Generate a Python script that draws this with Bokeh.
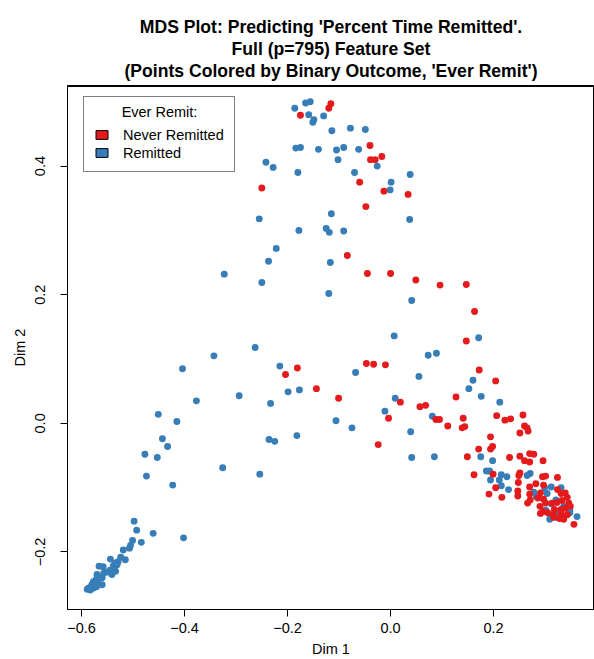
import numpy as np
from bokeh.plotting import figure
from bokeh.models import (Range1d, FixedTicker, Title, Legend, LegendItem, Span,
                          CustomJSTickFormatter, ColumnDataSource, Label)
from bokeh.embed import file_html
from bokeh.resources import INLINE

# ---------------- data ----------------
blue_x = [-0.186, -0.165, -0.156, -0.159, -0.149, -0.151, -0.130, -0.114, -0.078, -0.049,
          -0.184, -0.175, -0.140, -0.105, -0.091, -0.062, -0.102, -0.242, -0.228, -0.180,
          -0.070, -0.026, 0.001, -0.001, 0.038, -0.115, -0.255, -0.178, -0.125, -0.119,
          -0.091, 0.037, -0.222, -0.237, -0.117, -0.250, -0.120, 0.041, 0.007, -0.263,
          0.073, 0.089, -0.323, -0.343, -0.404, -0.294, -0.377, -0.451, -0.415, -0.443,
          -0.433, -0.477, -0.453, -0.326, -0.474, -0.254, -0.423, -0.498, -0.493, -0.461,
          -0.402, -0.501, -0.484, -0.505, -0.507, -0.519, -0.515, -0.524, -0.529, -0.534,
          -0.544, -0.538, -0.531, -0.558, -0.566, -0.544, -0.550, -0.557, -0.534, -0.541,
          -0.570, -0.563, -0.571, -0.560, -0.577, -0.569, -0.560, -0.580, -0.573, -0.586,
          -0.589, -0.583, -0.577, -0.571, -0.215, -0.068, -0.199, -0.177, -0.233, 0.055,
          0.009, -0.011, 0.081, -0.106, -0.075, 0.039, -0.236, -0.225, -0.182, 0.041,
          0.085, 0.171, 0.160, 0.152, 0.176, 0.212, 0.175, 0.198, 0.186, 0.192,
          0.215, 0.226, 0.194, 0.211, 0.215, 0.229, 0.265, 0.271, 0.299, 0.312,
          0.331, 0.278, 0.304, 0.283, 0.321, 0.312, 0.336, 0.348, 0.301, 0.324,
          0.310, 0.322, 0.309, 0.362, 0.348]
blue_y = [0.490, 0.498, 0.500, 0.480, 0.472, 0.468, 0.478, 0.455, 0.459, 0.457,
          0.428, 0.429, 0.426, 0.425, 0.429, 0.426, 0.410, 0.406, 0.398, 0.390,
          0.390, 0.400, 0.375, 0.363, 0.387, 0.326, 0.318, 0.300, 0.303, 0.297,
          0.299, 0.317, 0.272, 0.252, 0.250, 0.219, 0.202, 0.191, 0.136, 0.118,
          0.106, 0.109, 0.232, 0.105, 0.085, 0.043, 0.035, 0.014, 0.003, -0.024,
          -0.036, -0.048, -0.053, -0.069, -0.082, -0.079, -0.096, -0.152, -0.166, -0.171,
          -0.178, -0.182, -0.185, -0.190, -0.194, -0.197, -0.212, -0.208, -0.215, -0.217,
          -0.211, -0.221, -0.220, -0.223, -0.222, -0.228, -0.231, -0.233, -0.230, -0.235,
          -0.235, -0.239, -0.242, -0.240, -0.246, -0.247, -0.251, -0.251, -0.254, -0.256,
          -0.258, -0.259, -0.256, -0.254, 0.089, 0.079, 0.049, 0.052, 0.031, 0.073,
          0.039, 0.019, 0.011, 0.004, -0.007, -0.013, -0.025, -0.028, -0.019, -0.053,
          -0.052, 0.133, 0.067, 0.054, 0.042, 0.033, -0.052, -0.058, -0.074, -0.074,
          -0.080, -0.083, -0.088, -0.088, -0.097, -0.103, -0.081, -0.078, -0.100, -0.099,
          -0.100, -0.107, -0.109, -0.114, -0.119, -0.125, -0.129, -0.135, -0.135, -0.137,
          -0.142, -0.146, -0.149, -0.145, -0.139]

red_x = [-0.116, -0.120, -0.175, -0.040, -0.039, -0.030, -0.017, -0.250, -0.060, -0.013,
         0.034, -0.048, -0.084, -0.045, 0.000, 0.049, 0.096, -0.181, -0.204, -0.144,
         -0.101, -0.047, -0.033, -0.010, 0.019, -0.004, 0.057, 0.068, 0.088, 0.095,
         0.111, -0.024, 0.147, 0.172, 0.204, 0.127, 0.141, 0.139, 0.144, 0.206,
         0.222, 0.233, 0.257, 0.260, 0.265, 0.267, 0.251, 0.194, 0.198, 0.194,
         0.171, 0.149, 0.231, 0.251, 0.270, 0.278, 0.260, 0.270, 0.296, 0.162,
         0.199, 0.251, 0.249, 0.248, 0.204, 0.247, 0.191, 0.216, 0.247, 0.270,
         0.282, 0.295, 0.301, 0.297, 0.324, 0.324, 0.331, 0.339, 0.270, 0.291,
         0.271, 0.286, 0.297, 0.266, 0.290, 0.301, 0.314, 0.323, 0.333, 0.343,
         0.296, 0.305, 0.318, 0.331, 0.339, 0.316, 0.331, 0.336, 0.343, 0.291,
         0.317, 0.328, 0.336, 0.356, 0.346, 0.349, 0.147, 0.163]
red_y = [0.497, 0.490, 0.479, 0.432, 0.410, 0.410, 0.415, 0.366, 0.375, 0.361,
         0.356, 0.337, 0.261, 0.233, 0.233, 0.223, 0.215, 0.086, 0.076, 0.054,
         0.039, 0.093, 0.092, 0.091, 0.033, 0.008, 0.026, 0.028, 0.006, 0.006,
         -0.004, -0.033, 0.128, 0.083, 0.066, 0.041, 0.008, -0.007, -0.005, 0.012,
         0.005, 0.007, 0.013, -0.004, -0.007, -0.012, -0.015, -0.021, -0.036, -0.040,
         -0.040, -0.052, -0.053, -0.051, -0.047, -0.048, -0.058, -0.060, -0.058, -0.080,
         -0.079, -0.077, -0.081, -0.092, -0.100, -0.105, -0.110, -0.115, -0.113, -0.099,
         -0.094, -0.083, -0.082, -0.096, -0.084, -0.103, -0.109, -0.108, -0.110, -0.108,
         -0.119, -0.116, -0.118, -0.124, -0.129, -0.124, -0.124, -0.123, -0.120, -0.115,
         -0.137, -0.139, -0.134, -0.134, -0.132, -0.142, -0.141, -0.145, -0.142, -0.140,
         -0.146, -0.148, -0.149, -0.157, -0.124, -0.129, 0.216, 0.174]

x_ticks = [-0.6, -0.4, -0.2, 0.0, 0.2]
y_ticks = [-0.2, 0.0, 0.2, 0.4]
title_lines = ["MDS Plot: Predicting 'Percent Time Remitted'.",
               "Full (p=795) Feature Set",
               "(Points Colored by Binary Outcome, 'Ever Remit')"]
legend_title = "Ever Remit:"
legend_labels = ["Never Remitted", "Remitted"]
RED = "#E41A1C"
BLUE = "#377EB8"
FONT = "Liberation Sans"

# ---------------- figure ----------------
p = figure(width=594, height=659, output_backend="svg", toolbar_location=None,
           x_range=Range1d(-0.6273, 0.3959), y_range=Range1d(-0.2894, 0.5253),
           min_border_left=67, min_border_right=0, min_border_top=85, min_border_bottom=49,
           x_axis_label="Dim 1", y_axis_label="Dim 2")
p.outline_line_color = "black"
p.outline_line_width = 1
p.grid.visible = False
p.background_fill_color = "white"
p.border_fill_color = "white"

fmt = CustomJSTickFormatter(code="return tick.toFixed(1).replace('-', '\\u2212');")
for ax in (p.xaxis[0], p.yaxis[0]):
    ax.axis_line_color = "black"
    ax.axis_line_width = 1
    ax.major_tick_line_color = "black"
    ax.minor_tick_line_color = None
    ax.major_tick_out = 7
    ax.major_tick_in = 0
    ax.major_label_text_font = FONT
    ax.major_label_text_font_size = "14.5px"
    ax.major_label_text_color = "black"
    ax.axis_label_text_font = FONT
    ax.axis_label_text_font_size = "14.5px"
    ax.axis_label_text_font_style = "normal"
    ax.axis_label_text_color = "black"
    ax.formatter = fmt
p.xaxis[0].ticker = FixedTicker(ticks=x_ticks)
p.yaxis[0].ticker = FixedTicker(ticks=y_ticks)
p.xaxis[0].major_label_standoff = 6
p.xaxis[0].axis_label_standoff = 5
p.yaxis[0].major_label_orientation = "vertical"
p.yaxis[0].major_label_standoff = 15
p.yaxis[0].axis_label_standoff = 5

# top edge of the plot box (reference is cropped on the right, so no right edge);
# drawn a hair inside the frame so that it is not lost at the frame boundary
y_span = p.y_range.end - p.y_range.start
top_edge = p.y_range.end - 0.0015 * y_span
p.add_layout(Span(location=top_edge, dimension="width", line_color="black", line_width=1.3))
p.segment(x0=[p.x_range.start], y0=[top_edge], x1=[p.x_range.end], y1=[top_edge],
          line_color="black", line_width=1.3)

# small spacer between the box and the title block
p.add_layout(Title(text="\u00a0", text_font_size="1px", standoff=1), "above")
# title lines, innermost first
standoffs = [1, 0, 0]
for line, so in zip(reversed(title_lines), standoffs):
    p.add_layout(Title(text=line, align="center", text_font=FONT, text_font_size="17.6px",
                       text_font_style="bold", text_color="black", standoff=so), "above")

# points
p.scatter(blue_x, blue_y, size=6.9, fill_color=BLUE, line_color=None)
p.scatter(red_x, red_y, size=6.9, fill_color=RED, line_color=None)

# legend (filled boxes like R's legend(fill=...)); glyphs are kept off-canvas (NaN)
src_never = ColumnDataSource(data=dict(x=np.array([np.nan]), y=np.array([np.nan])))
src_rem = ColumnDataSource(data=dict(x=np.array([np.nan]), y=np.array([np.nan])))
r_never = p.rect(x="x", y="y", width=0.01, height=0.01, source=src_never,
                 fill_color=RED, line_color="black", line_width=1)
r_rem = p.rect(x="x", y="y", width=0.01, height=0.01, source=src_rem,
               fill_color=BLUE, line_color="black", line_width=1)
legend = Legend(items=[LegendItem(label=legend_labels[0], renderers=[r_never], index=0),
                       LegendItem(label=legend_labels[1], renderers=[r_rem], index=0)],
                title="\u00a0", location=(16, 437), padding=10, spacing=1,
                glyph_width=15, glyph_height=11, label_height=17, label_standoff=14,
                label_text_font=FONT, label_text_font_size="14.5px", label_text_color="black",
                title_text_font=FONT, title_text_font_size="14.5px", title_text_font_style="normal",
                title_text_color="black", title_standoff=3,
                border_line_color="black", border_line_width=1,
                background_fill_color=None, margin=0)
p.add_layout(legend)

# centred legend title, as R draws it (screen units relative to the plot frame)
p.add_layout(Label(x=92, y=498, x_units="screen", y_units="screen", text=legend_title,
                   text_align="center", text_baseline="middle", text_font=FONT,
                   text_font_size="14.5px", text_color="black"))

open("out.html", "w").write(file_html(p, INLINE))
